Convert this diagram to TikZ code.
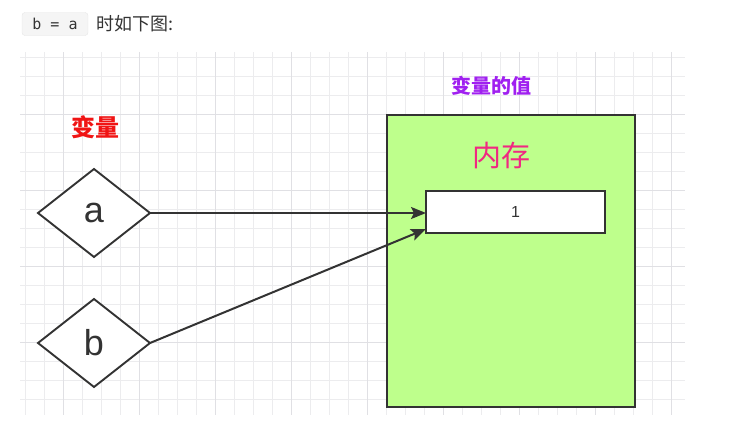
\documentclass[tikz,border=0pt]{standalone}
\usepackage{fontspec}
\setmainfont{Liberation Sans}
\newfontfamily\cjk{Noto Sans CJK SC}
\newfontfamily\codefont{DejaVu Sans Mono}
\usetikzlibrary{arrows.meta, shapes.geometric, calc}

\definecolor{memgreen}{RGB}{190,255,140}
\definecolor{linegray}{RGB}{51,51,51}
\definecolor{gridminor}{RGB}{236,236,238}
\definecolor{gridmajor}{RGB}{224,224,228}
\definecolor{labelred}{RGB}{240,20,20}
\definecolor{labelpurple}{RGB}{160,32,240}
\definecolor{labelpink}{RGB}{240,40,130}

\begin{document}
\begin{tikzpicture}[x=1pt, y=-1pt, >={Stealth[length=15pt, width=12pt, inset=3pt]},
  varshape/.style={diamond, draw=linegray, line width=1.9pt, fill=white,
    minimum width=112pt, minimum height=88pt, inner sep=0pt, outer sep=0pt,
    font=\fontsize{36}{36}\selectfont, text=linegray},
  link/.style={->, draw=linegray, line width=2pt}]
\useasboundingbox (0,0) rectangle (745,421);
% 顶部说明
\node[draw=gray!20, fill=gray!8, rounded corners=3pt, inner sep=0pt,
  minimum width=66pt, minimum height=23pt,
  font=\codefont\fontsize{15}{15}\selectfont, text=linegray]
  (code) at (55,24) {b = a};
\node[font=\cjk\fontsize{18}{18}\selectfont, text=linegray, anchor=west]
  (caption) at (93,24) {时如下图:};
% 网格
\foreach \x in {25,44,...,685}
  \draw[gridminor, line width=0.8pt] (\x,52) -- (\x,415);
\foreach \y in {57,76,...,415}
  \draw[gridminor, line width=0.8pt] (20,\y) -- (685,\y);
\foreach \x in {63,139,...,685}
  \draw[gridmajor, line width=1pt] (\x,52) -- (\x,415);
\foreach \y in {114,190,...,415}
  \draw[gridmajor, line width=1pt] (20,\y) -- (685,\y);
% 标题
\node[font=\cjk\bfseries\fontsize{24}{24}\selectfont, text=labelred]
  (varlbl) at (95,127) {变量};
\node[font=\cjk\bfseries\fontsize{20}{20}\selectfont, text=labelpurple]
  (vallbl) at (491,86) {变量的值};
% 内存
\node[draw=linegray, line width=2.4pt, fill=memgreen,
  minimum width=248pt, minimum height=292pt] (mem) at (511,261) {};
\node[font=\cjk\fontsize{29}{29}\selectfont, text=labelpink]
  (memlbl) at (501,156) {内存};
\node[draw=linegray, line width=2pt, fill=white, outer sep=0pt,
  minimum width=179pt, minimum height=42pt,
  font=\fontsize{16}{16}\selectfont, text=linegray] (cell) at (515.5,212) {1};
% 变量
\node[varshape] (vara) at (94,213) {a};
\node[varshape] (varb) at (94,343) {b};
% 指向
\draw[link] (vara.east) -- (cell.west |- vara.east);
\draw[link] (varb.east) -- ($(cell.south west)+(0,-4)$);
\end{tikzpicture}
\end{document}
